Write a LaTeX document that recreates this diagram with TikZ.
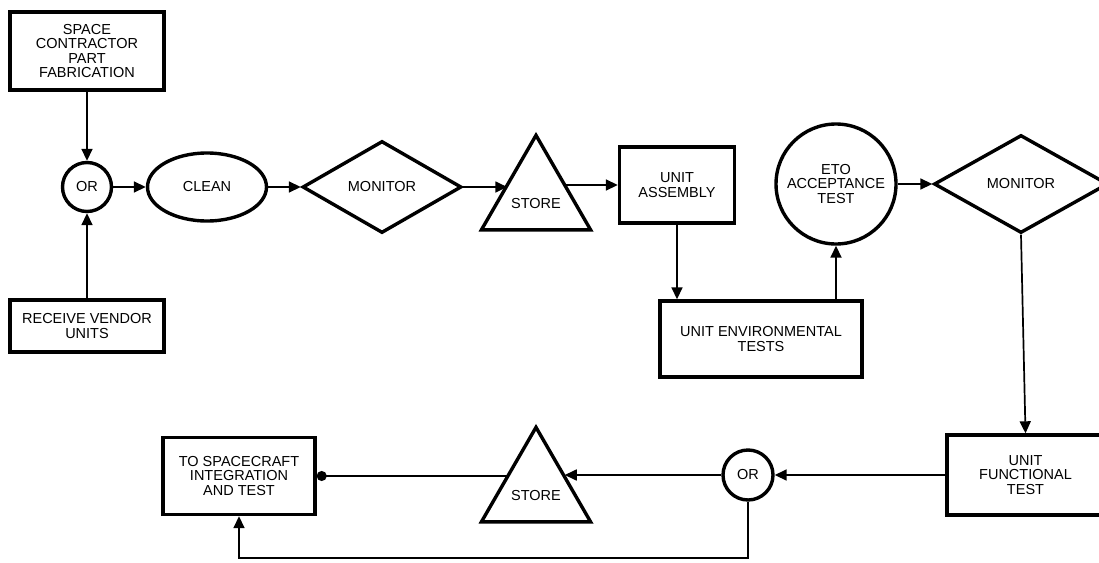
\documentclass[tikz,border=0pt]{standalone}
\usepackage{fontspec}
\setmainfont{Liberation Sans}
\usetikzlibrary{arrows.meta}
\usetikzlibrary{shapes.geometric}

\begin{document}
\begin{tikzpicture}[x=1pt, y=-1pt,
		font=\fontsize{14.5}{14.5}\selectfont,
		box/.style={draw, line width=3.4pt, align=center, inner sep=0pt},
		orgate/.style={draw, circle, line width=3.4pt, align=center, inner sep=0pt},
		oval/.style={draw, ellipse, line width=3.4pt, inner sep=0pt},
		monitor/.style={draw, diamond, line width=3.4pt, inner sep=0pt},
		store/.style={draw, regular polygon, regular polygon sides=3, line width=3.4pt, minimum size=126pt, inner sep=0pt, label={[yshift=-5pt]center:STORE}},
		flow/.style={line width=1.7pt, -{Triangle[length=12pt,width=11pt]}}]
				\useasboundingbox (0,0) rectangle (1099,562);
				\node[box, minimum width=154pt, minimum height=78pt] (scf) at (87,51) {SPACE\\CONTRACTOR\\PART\\FABRICATION};
				\node[orgate, minimum size=49pt] (or1) at (87,187) {OR};
				\node[box, minimum width=154pt, minimum height=52pt] (rvu) at (87,326) {RECEIVE VENDOR\\UNITS};
				\node[oval, minimum width=119pt, minimum height=68pt] (clean) at (207,187) {CLEAN};
				\node[monitor, minimum width=159pt, minimum height=92pt] (mon1) at (382,187) {MONITOR};
				\node[store] (st1) at (536,198.3) {};
				\node[box, minimum width=115pt, minimum height=76pt] (ua) at (677,185) {UNIT\\ASSEMBLY};
				\node[box, minimum width=202pt, minimum height=76pt] (ue) at (761,339) {UNIT ENVIRONMENTAL\\TESTS};
				\node[orgate, minimum size=120pt] (eto) at (836,184) {ETO\\ACCEPTANCE\\TEST};
				\node[monitor, minimum width=174pt, minimum height=98pt] (mon2) at (1021,184) {MONITOR};
				\node[box, minimum width=157pt, minimum height=80pt] (func) at (1025.5,475) {UNIT\\FUNCTIONAL\\TEST};
				\node[orgate, minimum size=50pt] (or2) at (748,475) {OR};
				\node[store] (st2) at (536,490.3) {};
				\node[box, minimum width=152pt, minimum height=77pt] (sc) at (239,476) {TO SPACECRAFT\\INTEGRATION\\AND TEST};
				\coordinate (loopy) at (0,558);
				\draw[flow] (scf) -- (or1);
				\draw[flow] (rvu) -- (or1);
				\draw[flow] (or1.east) -- (clean.west);
				\draw[flow] (clean.east) -- (mon1.west);
				\draw[flow] (mon1.east) -- (mon1.east -| st1.side 1);
				\draw[flow] (st1.side 3 |- ua.west) -- (ua.west);
				\draw[flow] (ua.south) -- (ua.south |- ue.north);
				\draw[flow] (eto.south |- ue.north) -- (eto.south);
				\draw[flow] (eto.east) -- (eto.east -| mon2.west);
				\draw[flow] (mon2.south) -- (func.north);
				\draw[flow] (func.west) -- (or2.east);
				\draw[flow] (or2.west) -- (or2.west -| st2.side 3);
				\draw[line width=1.7pt, -{Circle[length=10pt]}] (st2.side 1 |- sc.east) -- (sc.east);
				\draw[flow] (or2.south) -- (or2.south |- loopy) -| (sc.south);
			\end{tikzpicture}
\end{document}
